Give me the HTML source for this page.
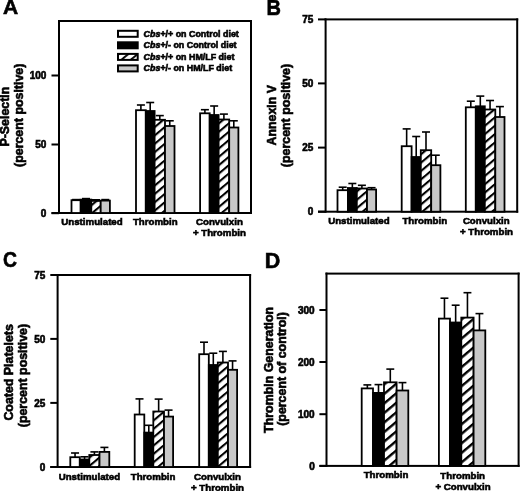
<!DOCTYPE html>
<html><head><meta charset="utf-8"><style>
html,body{margin:0;padding:0;background:#fff;}
body{width:520px;height:491px;overflow:hidden;}
svg{display:block;font-family:"Liberation Sans", sans-serif;filter:grayscale(1);}
text{stroke:#000;stroke-width:0.6px;}
</style></head><body>
<svg width="520" height="491" viewBox="0 0 520 491" font-family='"Liberation Sans", sans-serif'>
<defs>
<pattern id="hatch" patternUnits="userSpaceOnUse" x="0" y="3.8" width="6.4" height="6.4" patternTransform="rotate(-40)">
<rect width="6.4" height="6.4" fill="#fff"/><rect y="0" width="6.4" height="2.1" fill="#000"/></pattern>
<pattern id="hatchL" patternUnits="userSpaceOnUse" x="0" y="2.9" width="6.0" height="6.0" patternTransform="rotate(-40)">
<rect width="6.0" height="6.0" fill="#fff"/><rect y="0" width="6.0" height="1.9" fill="#000"/></pattern>
<pattern id="hatchD" patternUnits="userSpaceOnUse" width="7.3" height="7.3" patternTransform="rotate(-40)">
<rect width="7.3" height="7.3" fill="#fff"/><rect y="0" width="7.3" height="2.4" fill="#000"/></pattern>
</defs>
<text x="3.00" y="14.30" font-size="21" font-weight="bold" text-anchor="start" >A</text>
<rect x="58.00" y="20.00" width="194.00" height="2.00" fill="#000"/>
<rect x="58.00" y="20.00" width="2.00" height="194.00" fill="#000"/>
<rect x="250.00" y="20.00" width="2.00" height="194.00" fill="#000"/>
<rect x="51.50" y="212.00" width="200.50" height="2.00" fill="#000"/>
<rect x="51.50" y="74.50" width="7.50" height="2.00" fill="#000"/>
<text x="46.40" y="79.20" font-size="10" font-weight="bold" text-anchor="end" >100</text>
<rect x="51.50" y="143.50" width="7.50" height="2.00" fill="#000"/>
<text x="46.40" y="148.20" font-size="10" font-weight="bold" text-anchor="end" >50</text>
<rect x="51.50" y="212.20" width="7.50" height="2.00" fill="#000"/>
<text x="46.40" y="216.90" font-size="10" font-weight="bold" text-anchor="end" >0</text>
<rect x="71.50" y="200.20" width="9.20" height="12.80" fill="#fff" stroke="#000" stroke-width="1.8"/>
<rect x="80.70" y="199.60" width="10.60" height="13.40" fill="#000" stroke="#000" stroke-width="1.8"/>
<rect x="91.30" y="200.90" width="9.40" height="12.10" fill="url(#hatch)" stroke="#000" stroke-width="1.8"/>
<rect x="100.70" y="200.60" width="9.20" height="12.40" fill="#c8c8c8" stroke="#000" stroke-width="1.8"/>
<line x1="76.10" y1="200.20" x2="76.10" y2="199.60" stroke="#000" stroke-width="1.6"/>
<line x1="72.10" y1="199.60" x2="80.10" y2="199.60" stroke="#000" stroke-width="1.6"/>
<line x1="86.00" y1="199.60" x2="86.00" y2="198.60" stroke="#000" stroke-width="1.6"/>
<line x1="82.00" y1="198.60" x2="90.00" y2="198.60" stroke="#000" stroke-width="1.6"/>
<line x1="96.00" y1="200.90" x2="96.00" y2="199.80" stroke="#000" stroke-width="1.6"/>
<line x1="92.00" y1="199.80" x2="100.00" y2="199.80" stroke="#000" stroke-width="1.6"/>
<line x1="105.30" y1="200.60" x2="105.30" y2="199.60" stroke="#000" stroke-width="1.6"/>
<line x1="101.30" y1="199.60" x2="109.30" y2="199.60" stroke="#000" stroke-width="1.6"/>
<rect x="136.00" y="110.20" width="9.80" height="102.80" fill="#fff" stroke="#000" stroke-width="1.8"/>
<rect x="145.80" y="111.00" width="8.80" height="102.00" fill="#000" stroke="#000" stroke-width="1.8"/>
<rect x="154.60" y="119.80" width="10.40" height="93.20" fill="url(#hatch)" stroke="#000" stroke-width="1.8"/>
<rect x="165.00" y="126.00" width="9.50" height="87.00" fill="#c8c8c8" stroke="#000" stroke-width="1.8"/>
<line x1="140.90" y1="110.20" x2="140.90" y2="105.00" stroke="#000" stroke-width="1.6"/>
<line x1="136.90" y1="105.00" x2="144.90" y2="105.00" stroke="#000" stroke-width="1.6"/>
<line x1="150.20" y1="111.00" x2="150.20" y2="102.50" stroke="#000" stroke-width="1.6"/>
<line x1="146.20" y1="102.50" x2="154.20" y2="102.50" stroke="#000" stroke-width="1.6"/>
<line x1="159.80" y1="119.80" x2="159.80" y2="115.60" stroke="#000" stroke-width="1.6"/>
<line x1="155.80" y1="115.60" x2="163.80" y2="115.60" stroke="#000" stroke-width="1.6"/>
<line x1="169.75" y1="126.00" x2="169.75" y2="120.80" stroke="#000" stroke-width="1.6"/>
<line x1="165.75" y1="120.80" x2="173.75" y2="120.80" stroke="#000" stroke-width="1.6"/>
<rect x="200.10" y="113.30" width="9.60" height="99.70" fill="#fff" stroke="#000" stroke-width="1.8"/>
<rect x="209.70" y="115.00" width="8.90" height="98.00" fill="#000" stroke="#000" stroke-width="1.8"/>
<rect x="218.60" y="119.50" width="10.60" height="93.50" fill="url(#hatch)" stroke="#000" stroke-width="1.8"/>
<rect x="229.20" y="127.50" width="9.20" height="85.50" fill="#c8c8c8" stroke="#000" stroke-width="1.8"/>
<line x1="204.90" y1="113.30" x2="204.90" y2="109.70" stroke="#000" stroke-width="1.6"/>
<line x1="200.90" y1="109.70" x2="208.90" y2="109.70" stroke="#000" stroke-width="1.6"/>
<line x1="214.15" y1="115.00" x2="214.15" y2="106.00" stroke="#000" stroke-width="1.6"/>
<line x1="210.15" y1="106.00" x2="218.15" y2="106.00" stroke="#000" stroke-width="1.6"/>
<line x1="223.90" y1="119.50" x2="223.90" y2="114.10" stroke="#000" stroke-width="1.6"/>
<line x1="219.90" y1="114.10" x2="227.90" y2="114.10" stroke="#000" stroke-width="1.6"/>
<line x1="233.80" y1="127.50" x2="233.80" y2="120.80" stroke="#000" stroke-width="1.6"/>
<line x1="229.80" y1="120.80" x2="237.80" y2="120.80" stroke="#000" stroke-width="1.6"/>
<rect x="118" y="30.80" width="19.7" height="6" fill="#fff" stroke="#000" stroke-width="2"/>
<rect x="118" y="42.30" width="19.7" height="6" fill="#000" stroke="#000" stroke-width="2"/>
<rect x="118" y="53.90" width="19.7" height="6" fill="url(#hatchL)" stroke="#000" stroke-width="2"/>
<rect x="118" y="65.40" width="19.7" height="6" fill="#c8c8c8" stroke="#000" stroke-width="2"/>
<text x="143.6" y="36.80" font-size="8.9" font-weight="bold"><tspan font-style="italic">Cbs</tspan>+/+ on Control diet</text>
<text x="143.6" y="48.30" font-size="8.9" font-weight="bold"><tspan font-style="italic">Cbs</tspan>+/- on Control diet</text>
<text x="143.6" y="59.90" font-size="8.9" font-weight="bold"><tspan font-style="italic">Cbs</tspan>+/+ on HM/LF diet</text>
<text x="143.6" y="71.40" font-size="8.9" font-weight="bold"><tspan font-style="italic">Cbs</tspan>+/- on HM/LF diet</text>
<text transform="translate(8.60,116.60) rotate(-90)" x="0" y="0" font-size="12.4" font-weight="bold" text-anchor="middle">P-Selectin</text>
<text transform="translate(23.40,115.30) rotate(-90)" x="0" y="0" font-size="12.4" font-weight="bold" text-anchor="middle">(percent positive)</text>
<text x="92.00" y="225.20" font-size="9.7" font-weight="bold" text-anchor="middle" >Unstimulated</text>
<text x="155.30" y="225.10" font-size="9.7" font-weight="bold" text-anchor="middle" >Thrombin</text>
<text x="219.40" y="225.10" font-size="9.7" font-weight="bold" text-anchor="middle" >Convulxin</text>
<text x="219.40" y="236.30" font-size="9.7" font-weight="bold" text-anchor="middle" >+ Thrombin</text>
<text transform="translate(266.4,14.8) scale(0.93,1.06)" font-size="21.5" font-weight="bold">B</text>
<rect x="324.60" y="18.40" width="193.60" height="2.00" fill="#000"/>
<rect x="324.60" y="18.40" width="2.00" height="194.30" fill="#000"/>
<rect x="516.20" y="18.40" width="2.00" height="194.30" fill="#000"/>
<rect x="318.00" y="210.70" width="200.20" height="2.00" fill="#000"/>
<rect x="318.00" y="18.40" width="7.60" height="2.00" fill="#000"/>
<text x="313.30" y="23.10" font-size="10" font-weight="bold" text-anchor="end" >75</text>
<rect x="318.00" y="82.40" width="7.60" height="2.00" fill="#000"/>
<text x="313.30" y="87.10" font-size="10" font-weight="bold" text-anchor="end" >50</text>
<rect x="318.00" y="146.60" width="7.60" height="2.00" fill="#000"/>
<text x="313.30" y="151.30" font-size="10" font-weight="bold" text-anchor="end" >25</text>
<rect x="318.00" y="210.70" width="7.60" height="2.00" fill="#000"/>
<text x="313.30" y="215.40" font-size="10" font-weight="bold" text-anchor="end" >0</text>
<rect x="337.50" y="190.20" width="10.40" height="21.50" fill="#fff" stroke="#000" stroke-width="1.8"/>
<rect x="347.90" y="188.00" width="8.90" height="23.70" fill="#000" stroke="#000" stroke-width="1.8"/>
<rect x="356.80" y="188.50" width="10.20" height="23.20" fill="url(#hatch)" stroke="#000" stroke-width="1.8"/>
<rect x="367.00" y="189.50" width="9.10" height="22.20" fill="#c8c8c8" stroke="#000" stroke-width="1.8"/>
<line x1="342.70" y1="190.20" x2="342.70" y2="187.20" stroke="#000" stroke-width="1.6"/>
<line x1="338.70" y1="187.20" x2="346.70" y2="187.20" stroke="#000" stroke-width="1.6"/>
<line x1="352.35" y1="188.00" x2="352.35" y2="183.50" stroke="#000" stroke-width="1.6"/>
<line x1="348.35" y1="183.50" x2="356.35" y2="183.50" stroke="#000" stroke-width="1.6"/>
<line x1="361.90" y1="188.50" x2="361.90" y2="185.30" stroke="#000" stroke-width="1.6"/>
<line x1="357.90" y1="185.30" x2="365.90" y2="185.30" stroke="#000" stroke-width="1.6"/>
<line x1="371.55" y1="189.50" x2="371.55" y2="187.70" stroke="#000" stroke-width="1.6"/>
<line x1="367.55" y1="187.70" x2="375.55" y2="187.70" stroke="#000" stroke-width="1.6"/>
<rect x="401.70" y="146.20" width="9.90" height="65.50" fill="#fff" stroke="#000" stroke-width="1.8"/>
<rect x="411.60" y="157.00" width="9.20" height="54.70" fill="#000" stroke="#000" stroke-width="1.8"/>
<rect x="420.80" y="150.20" width="10.40" height="61.50" fill="url(#hatch)" stroke="#000" stroke-width="1.8"/>
<rect x="431.20" y="165.20" width="9.20" height="46.50" fill="#c8c8c8" stroke="#000" stroke-width="1.8"/>
<line x1="406.65" y1="146.20" x2="406.65" y2="128.90" stroke="#000" stroke-width="1.6"/>
<line x1="402.65" y1="128.90" x2="410.65" y2="128.90" stroke="#000" stroke-width="1.6"/>
<line x1="416.20" y1="157.00" x2="416.20" y2="136.50" stroke="#000" stroke-width="1.6"/>
<line x1="412.20" y1="136.50" x2="420.20" y2="136.50" stroke="#000" stroke-width="1.6"/>
<line x1="426.00" y1="150.20" x2="426.00" y2="132.00" stroke="#000" stroke-width="1.6"/>
<line x1="422.00" y1="132.00" x2="430.00" y2="132.00" stroke="#000" stroke-width="1.6"/>
<line x1="435.80" y1="165.20" x2="435.80" y2="155.20" stroke="#000" stroke-width="1.6"/>
<line x1="431.80" y1="155.20" x2="439.80" y2="155.20" stroke="#000" stroke-width="1.6"/>
<rect x="465.80" y="107.30" width="10.00" height="104.40" fill="#fff" stroke="#000" stroke-width="1.8"/>
<rect x="475.80" y="106.30" width="9.00" height="105.40" fill="#000" stroke="#000" stroke-width="1.8"/>
<rect x="484.80" y="109.50" width="10.50" height="102.20" fill="url(#hatch)" stroke="#000" stroke-width="1.8"/>
<rect x="495.30" y="117.00" width="9.20" height="94.70" fill="#c8c8c8" stroke="#000" stroke-width="1.8"/>
<line x1="470.80" y1="107.30" x2="470.80" y2="101.20" stroke="#000" stroke-width="1.6"/>
<line x1="466.80" y1="101.20" x2="474.80" y2="101.20" stroke="#000" stroke-width="1.6"/>
<line x1="480.30" y1="106.30" x2="480.30" y2="96.10" stroke="#000" stroke-width="1.6"/>
<line x1="476.30" y1="96.10" x2="484.30" y2="96.10" stroke="#000" stroke-width="1.6"/>
<line x1="490.05" y1="109.50" x2="490.05" y2="100.50" stroke="#000" stroke-width="1.6"/>
<line x1="486.05" y1="100.50" x2="494.05" y2="100.50" stroke="#000" stroke-width="1.6"/>
<line x1="499.90" y1="117.00" x2="499.90" y2="106.60" stroke="#000" stroke-width="1.6"/>
<line x1="495.90" y1="106.60" x2="503.90" y2="106.60" stroke="#000" stroke-width="1.6"/>
<text transform="translate(276.40,115.20) rotate(-90)" x="0" y="0" font-size="12.4" font-weight="bold" text-anchor="middle">Annexin V</text>
<text transform="translate(290.00,115.50) rotate(-90)" x="0" y="0" font-size="12.4" font-weight="bold" text-anchor="middle">(percent positive)</text>
<text x="358.90" y="223.50" font-size="9.7" font-weight="bold" text-anchor="middle" >Unstimulated</text>
<text x="424.80" y="224.00" font-size="9.7" font-weight="bold" text-anchor="middle" >Thrombin</text>
<text x="486.30" y="224.30" font-size="9.7" font-weight="bold" text-anchor="middle" >Convulxin</text>
<text x="486.50" y="235.20" font-size="9.7" font-weight="bold" text-anchor="middle" >+ Thrombin</text>
<text transform="translate(3.1,267.4) scale(0.9,1.06)" font-size="21.5" font-weight="bold" stroke-width="0.6">C</text>
<rect x="56.60" y="274.00" width="194.50" height="2.00" fill="#000"/>
<rect x="56.60" y="274.00" width="2.00" height="194.00" fill="#000"/>
<rect x="249.10" y="274.00" width="2.00" height="194.00" fill="#000"/>
<rect x="50.30" y="466.00" width="200.80" height="2.00" fill="#000"/>
<rect x="50.30" y="274.00" width="7.30" height="2.00" fill="#000"/>
<text x="45.40" y="278.70" font-size="10" font-weight="bold" text-anchor="end" >75</text>
<rect x="50.30" y="337.90" width="7.30" height="2.00" fill="#000"/>
<text x="45.40" y="342.60" font-size="10" font-weight="bold" text-anchor="end" >50</text>
<rect x="50.30" y="401.90" width="7.30" height="2.00" fill="#000"/>
<text x="45.40" y="406.60" font-size="10" font-weight="bold" text-anchor="end" >25</text>
<rect x="50.30" y="466.00" width="7.30" height="2.00" fill="#000"/>
<text x="45.40" y="470.70" font-size="10" font-weight="bold" text-anchor="end" >0</text>
<rect x="70.30" y="457.20" width="9.50" height="9.80" fill="#fff" stroke="#000" stroke-width="1.8"/>
<rect x="79.80" y="459.50" width="9.50" height="7.50" fill="#000" stroke="#000" stroke-width="1.8"/>
<rect x="89.30" y="455.00" width="10.20" height="12.00" fill="url(#hatch)" stroke="#000" stroke-width="1.8"/>
<rect x="99.50" y="451.90" width="9.80" height="15.10" fill="#c8c8c8" stroke="#000" stroke-width="1.8"/>
<line x1="75.05" y1="457.20" x2="75.05" y2="453.00" stroke="#000" stroke-width="1.6"/>
<line x1="71.05" y1="453.00" x2="79.05" y2="453.00" stroke="#000" stroke-width="1.6"/>
<line x1="84.55" y1="459.50" x2="84.55" y2="456.80" stroke="#000" stroke-width="1.6"/>
<line x1="80.55" y1="456.80" x2="88.55" y2="456.80" stroke="#000" stroke-width="1.6"/>
<line x1="94.40" y1="455.00" x2="94.40" y2="451.90" stroke="#000" stroke-width="1.6"/>
<line x1="90.40" y1="451.90" x2="98.40" y2="451.90" stroke="#000" stroke-width="1.6"/>
<line x1="104.40" y1="451.90" x2="104.40" y2="447.40" stroke="#000" stroke-width="1.6"/>
<line x1="100.40" y1="447.40" x2="108.40" y2="447.40" stroke="#000" stroke-width="1.6"/>
<rect x="134.70" y="414.50" width="9.60" height="52.50" fill="#fff" stroke="#000" stroke-width="1.8"/>
<rect x="144.30" y="432.60" width="9.00" height="34.40" fill="#000" stroke="#000" stroke-width="1.8"/>
<rect x="153.30" y="411.50" width="10.70" height="55.50" fill="url(#hatch)" stroke="#000" stroke-width="1.8"/>
<rect x="164.00" y="416.60" width="9.10" height="50.40" fill="#c8c8c8" stroke="#000" stroke-width="1.8"/>
<line x1="139.50" y1="414.50" x2="139.50" y2="398.90" stroke="#000" stroke-width="1.6"/>
<line x1="135.50" y1="398.90" x2="143.50" y2="398.90" stroke="#000" stroke-width="1.6"/>
<line x1="148.80" y1="432.60" x2="148.80" y2="425.30" stroke="#000" stroke-width="1.6"/>
<line x1="144.80" y1="425.30" x2="152.80" y2="425.30" stroke="#000" stroke-width="1.6"/>
<line x1="158.65" y1="411.50" x2="158.65" y2="399.10" stroke="#000" stroke-width="1.6"/>
<line x1="154.65" y1="399.10" x2="162.65" y2="399.10" stroke="#000" stroke-width="1.6"/>
<line x1="168.55" y1="416.60" x2="168.55" y2="410.10" stroke="#000" stroke-width="1.6"/>
<line x1="164.55" y1="410.10" x2="172.55" y2="410.10" stroke="#000" stroke-width="1.6"/>
<rect x="199.20" y="354.20" width="9.60" height="112.80" fill="#fff" stroke="#000" stroke-width="1.8"/>
<rect x="208.80" y="365.00" width="9.00" height="102.00" fill="#000" stroke="#000" stroke-width="1.8"/>
<rect x="217.80" y="362.50" width="10.20" height="104.50" fill="url(#hatch)" stroke="#000" stroke-width="1.8"/>
<rect x="228.00" y="369.80" width="9.10" height="97.20" fill="#c8c8c8" stroke="#000" stroke-width="1.8"/>
<line x1="204.00" y1="354.20" x2="204.00" y2="342.20" stroke="#000" stroke-width="1.6"/>
<line x1="200.00" y1="342.20" x2="208.00" y2="342.20" stroke="#000" stroke-width="1.6"/>
<line x1="213.30" y1="365.00" x2="213.30" y2="353.20" stroke="#000" stroke-width="1.6"/>
<line x1="209.30" y1="353.20" x2="217.30" y2="353.20" stroke="#000" stroke-width="1.6"/>
<line x1="222.90" y1="362.50" x2="222.90" y2="351.40" stroke="#000" stroke-width="1.6"/>
<line x1="218.90" y1="351.40" x2="226.90" y2="351.40" stroke="#000" stroke-width="1.6"/>
<line x1="232.55" y1="369.80" x2="232.55" y2="360.90" stroke="#000" stroke-width="1.6"/>
<line x1="228.55" y1="360.90" x2="236.55" y2="360.90" stroke="#000" stroke-width="1.6"/>
<text transform="translate(12.60,372.40) rotate(-90)" x="0" y="0" font-size="12.4" font-weight="bold" text-anchor="middle">Coated Platelets</text>
<text transform="translate(27.00,375.60) rotate(-90)" x="0" y="0" font-size="12.4" font-weight="bold" text-anchor="middle">(percent positive)</text>
<text x="89.40" y="480.00" font-size="9.7" font-weight="bold" text-anchor="middle" >Unstimulated</text>
<text x="153.10" y="479.60" font-size="9.7" font-weight="bold" text-anchor="middle" >Thrombin</text>
<text x="217.50" y="479.60" font-size="9.7" font-weight="bold" text-anchor="middle" >Convulxin</text>
<text x="217.50" y="490.80" font-size="9.7" font-weight="bold" text-anchor="middle" >+ Thrombin</text>
<text transform="translate(264.7,267.7) scale(1,1.03)" font-size="21.5" font-weight="bold">D</text>
<rect x="325.50" y="272.60" width="194.10" height="2.00" fill="#000"/>
<rect x="325.50" y="272.60" width="2.00" height="194.30" fill="#000"/>
<rect x="517.60" y="272.60" width="2.00" height="194.30" fill="#000"/>
<rect x="319.40" y="464.90" width="200.20" height="2.00" fill="#000"/>
<rect x="319.40" y="309.00" width="7.10" height="2.00" fill="#000"/>
<text x="314.70" y="313.70" font-size="10" font-weight="bold" text-anchor="end" >300</text>
<rect x="319.40" y="361.00" width="7.10" height="2.00" fill="#000"/>
<text x="314.70" y="365.70" font-size="10" font-weight="bold" text-anchor="end" >200</text>
<rect x="319.40" y="413.20" width="7.10" height="2.00" fill="#000"/>
<text x="314.70" y="417.90" font-size="10" font-weight="bold" text-anchor="end" >100</text>
<rect x="319.40" y="464.90" width="7.10" height="2.00" fill="#000"/>
<text x="314.70" y="469.60" font-size="10" font-weight="bold" text-anchor="end" >0</text>
<rect x="361.70" y="388.40" width="11.30" height="77.50" fill="#fff" stroke="#000" stroke-width="1.8"/>
<rect x="373.00" y="392.90" width="11.00" height="73.00" fill="#000" stroke="#000" stroke-width="1.8"/>
<rect x="384.00" y="382.30" width="12.60" height="83.60" fill="url(#hatchD)" stroke="#000" stroke-width="1.8"/>
<rect x="396.60" y="390.50" width="11.70" height="75.40" fill="#c8c8c8" stroke="#000" stroke-width="1.8"/>
<line x1="367.35" y1="388.40" x2="367.35" y2="384.90" stroke="#000" stroke-width="1.6"/>
<line x1="363.40" y1="384.90" x2="371.30" y2="384.90" stroke="#000" stroke-width="1.6"/>
<line x1="378.50" y1="392.90" x2="378.50" y2="384.60" stroke="#000" stroke-width="1.6"/>
<line x1="374.55" y1="384.60" x2="382.45" y2="384.60" stroke="#000" stroke-width="1.6"/>
<line x1="390.30" y1="382.30" x2="390.30" y2="369.10" stroke="#000" stroke-width="1.6"/>
<line x1="386.35" y1="369.10" x2="394.25" y2="369.10" stroke="#000" stroke-width="1.6"/>
<line x1="402.45" y1="390.50" x2="402.45" y2="382.60" stroke="#000" stroke-width="1.6"/>
<line x1="398.50" y1="382.60" x2="406.40" y2="382.60" stroke="#000" stroke-width="1.6"/>
<rect x="438.90" y="318.60" width="11.10" height="147.30" fill="#fff" stroke="#000" stroke-width="1.8"/>
<rect x="450.00" y="322.50" width="11.30" height="143.40" fill="#000" stroke="#000" stroke-width="1.8"/>
<rect x="461.30" y="317.60" width="12.30" height="148.30" fill="url(#hatchD)" stroke="#000" stroke-width="1.8"/>
<rect x="473.60" y="330.40" width="11.70" height="135.50" fill="#c8c8c8" stroke="#000" stroke-width="1.8"/>
<line x1="444.45" y1="318.60" x2="444.45" y2="298.20" stroke="#000" stroke-width="1.6"/>
<line x1="440.50" y1="298.20" x2="448.40" y2="298.20" stroke="#000" stroke-width="1.6"/>
<line x1="455.65" y1="322.50" x2="455.65" y2="305.20" stroke="#000" stroke-width="1.6"/>
<line x1="451.70" y1="305.20" x2="459.60" y2="305.20" stroke="#000" stroke-width="1.6"/>
<line x1="467.45" y1="317.60" x2="467.45" y2="292.70" stroke="#000" stroke-width="1.6"/>
<line x1="463.50" y1="292.70" x2="471.40" y2="292.70" stroke="#000" stroke-width="1.6"/>
<line x1="479.45" y1="330.40" x2="479.45" y2="313.60" stroke="#000" stroke-width="1.6"/>
<line x1="475.50" y1="313.60" x2="483.40" y2="313.60" stroke="#000" stroke-width="1.6"/>
<text transform="translate(273.00,369.90) rotate(-90)" x="0" y="0" font-size="12.4" font-weight="bold" text-anchor="middle">Thrombin Generation</text>
<text transform="translate(286.30,369.00) rotate(-90)" x="0" y="0" font-size="12.4" font-weight="bold" text-anchor="middle">(percent of control)</text>
<text x="386.00" y="478.30" font-size="9.7" font-weight="bold" text-anchor="middle" >Thrombin</text>
<text x="462.70" y="478.50" font-size="9.7" font-weight="bold" text-anchor="middle" >Thrombin</text>
<text x="463.00" y="489.70" font-size="9.7" font-weight="bold" text-anchor="middle" >+ Convulxin</text>
</svg>
</body></html>
